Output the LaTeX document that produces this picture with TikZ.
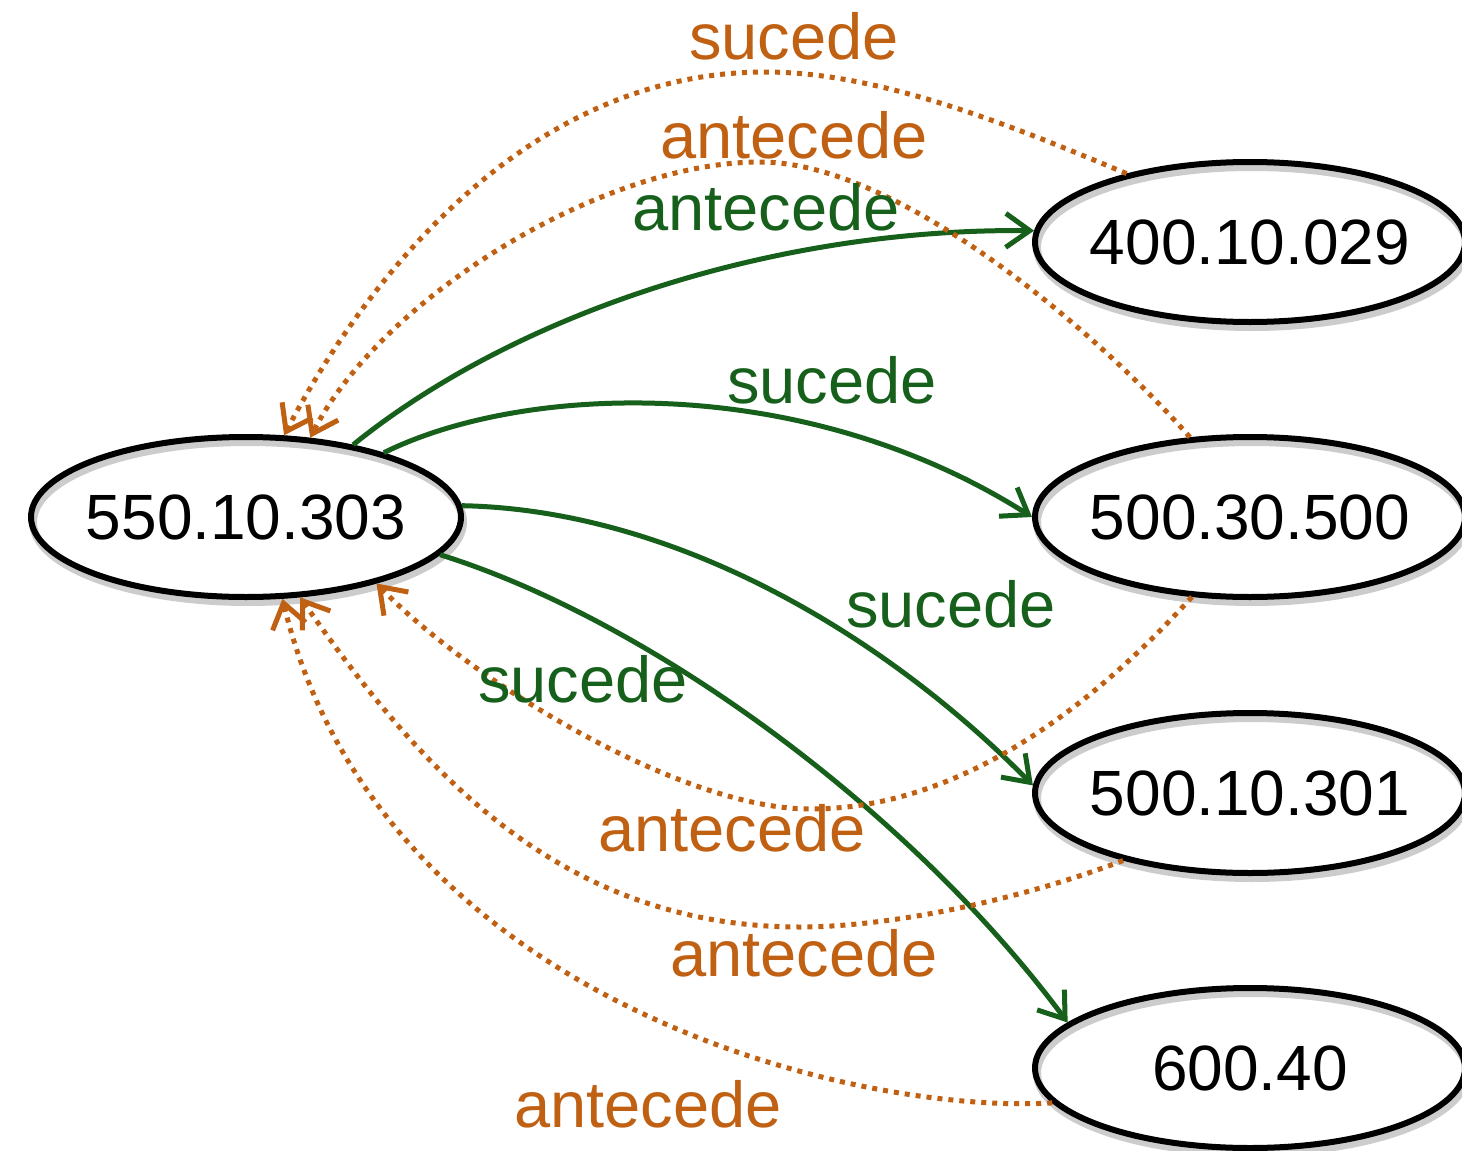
\documentclass[tikz,border=0pt]{standalone}
\usepackage{fontspec}
\setmainfont{Liberation Sans}
\usetikzlibrary{shapes.geometric,arrows.meta}
\definecolor{orng}{RGB}{192,96,18}
\definecolor{grn}{RGB}{22,96,28}
\newcommand{\ctrtext}[1]{\makebox[0pt][c]{#1}}
\begin{document}
\begin{tikzpicture}[x=1pt,y=-1pt,
  entity/.style={ellipse, draw=black, line width=6pt, minimum width=430pt, minimum height=160pt,
    inner sep=0pt, font=\fontsize{64}{70}\selectfont,
    preaction={draw=black!20, line width=8pt, transform canvas={shift={(2,5)}}}},
  lbl/.style={anchor=base, inner sep=0pt, font=\fontsize{65}{70}\selectfont},
  grnedge/.style={draw=grn, line width=5pt, -{Straight Barb[length=24pt,width=34pt]}},
  orgedge/.style={draw=orng, line width=5pt, dash pattern=on 5pt off 6pt, -{Straight Barb[length=24pt,width=34pt]}},
]
\useasboundingbox (0,0) rectangle (1462,1151);

% nodes
\node[entity] (n550) at (246,517) {\ctrtext{550.10.303}};
\node[entity] (n400) at (1250,242) {\ctrtext{400.10.029}};
\node[entity] (n5030) at (1250,517) {\ctrtext{500.30.500}};
\node[entity] (n5010) at (1250,793) {\ctrtext{500.10.301}};
\node[entity] (n600) at (1250,1068) {\ctrtext{600.40}};

% helper coordinates (curve vertices)
\coordinate (p1) at (765,72);
\coordinate (p2) at (760,162);
\coordinate (p3) at (810,809);
\coordinate (p4) at (800,927);

% green edges
\draw[grnedge] (n550.34) .. controls (520,310) and (780,228) .. (n400.177);
\draw[grnedge] (n550.25) .. controls (520,385) and (800,370) .. (n5030.180);
\draw[grnedge] (n550.3) .. controls (680,510) and (890,640) .. (n5010.178);
\draw[grnedge] (n550.-11) .. controls (650,620) and (910,810) .. (n600.166);

% orange edges
\draw[orgedge] (n400.151) .. controls (1010,125) and (880,72) .. (p1) .. controls (520,72) and (360,290) .. (n550.65);
\draw[orgedge] (n5030.127) .. controls (1100,335) and (900,162) .. (p2) .. controls (600,162) and (380,300) .. (n550.51);
\draw[orgedge] (n5030.234) .. controls (1080,720) and (950,809) .. (p3) .. controls (680,809) and (470,680) .. (n550.-27);
\draw[orgedge] (n5010.208) .. controls (1020,900) and (890,927) .. (p4) .. controls (560,927) and (420,770) .. (n550.-56);
\draw[orgedge] (n600.190) .. controls (850,1115) and (380,1000) .. (n550.-66);

% labels
\node[lbl, text=orng] (la) at (794,59) {sucede};
\node[lbl, text=orng] (lb) at (794,158) {antecede};
\node[lbl, text=grn] (lc) at (766,230) {antecede};
\node[lbl, text=grn] (ld) at (832,403) {sucede};
\node[lbl, text=grn] (le) at (951,627) {sucede};
\node[lbl, text=grn] (lf) at (583,702) {sucede};
\node[lbl, text=orng] (lg) at (732,851) {antecede};
\node[lbl, text=orng] (lh) at (804,976) {antecede};
\node[lbl, text=orng] (li) at (648,1127) {antecede};
\end{tikzpicture}
\end{document}
